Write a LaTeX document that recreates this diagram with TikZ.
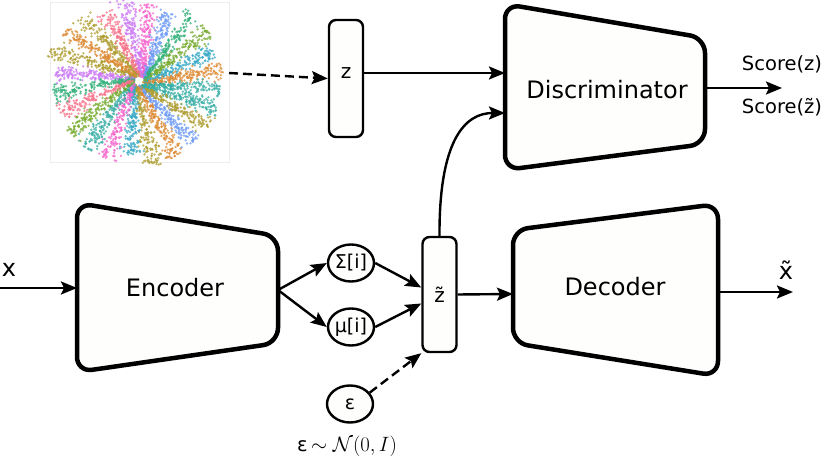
\documentclass[tikz,border=0pt]{standalone}
\usepackage{fontspec}
\setmainfont{DejaVu Sans}
\usetikzlibrary{arrows.meta,calc,shapes.geometric}
\definecolor{boxfill}{RGB}{254,254,252}
\definecolor{c1}{HTML}{F77189}
\definecolor{c2}{HTML}{DC8932}
\definecolor{c3}{HTML}{AE9D31}
\definecolor{c4}{HTML}{77AB31}
\definecolor{c5}{HTML}{33B07A}
\definecolor{c6}{HTML}{36ADA4}
\definecolor{c7}{HTML}{38A9C5}
\definecolor{c8}{HTML}{6E9BF4}
\definecolor{c9}{HTML}{CC7AF4}
\definecolor{c10}{HTML}{F565CC}
\begin{document}
\begin{tikzpicture}[x=1pt,y=-1pt,
  arr/.style={line width=2.4pt,-{Stealth[length=16pt,width=13pt,inset=3pt]}},
  dasharr/.style={arr,dash pattern=on 9pt off 5pt},
  big/.style={draw,line width=4.5pt,fill=boxfill,rounded corners=15pt,line join=round},
  vec/.style={draw,line width=2.4pt,fill=boxfill,rounded corners=7pt,minimum width=34pt,inner sep=0pt,font=\fontsize{20}{20}\selectfont},
  var/.style={draw,ellipse,line width=2.4pt,fill=boxfill,minimum width=46pt,minimum height=37pt,inner sep=0pt,font=\fontsize{19}{19}\selectfont},
  lbl/.style={font=\fontsize{24}{24}\selectfont},
  small/.style={font=\fontsize{19.5}{19.5}\selectfont}
]
\useasboundingbox (0,0) rectangle (830,462);

% ---------- scatter plot of the prior ----------
\draw[black!7,line width=0.7pt] (50,2) rectangle (229,162);
\pgfmathsetseed{4242}
\foreach \col [count=\k] in {c6,c3,c8,c2,c3,c7,c10,c6,c4,c1,c5,c9,c3,c2,c3,c1,c9,c10,c8,c5,c4,c7,c2,c6} {
  \pgfmathsetmacro\base{\k*15+3}
  \pgfmathsetmacro\len{70+14*rnd}
  \foreach \j in {1,...,190} {
    \pgfmathsetmacro\r{3+\len*rnd}
    \pgfmathsetmacro\s{(rnd+rnd+rnd-1.5)*(1.5+0.1*\r)+4}
    \pgfmathsetmacro\px{139+1.1*(\r*cos(\base)-\s*sin(\base))}
    \pgfmathsetmacro\py{81+(\r*sin(\base)+\s*cos(\base))}
    \fill[\col,opacity=0.75] (\px,\py) circle (1.3);
  }
}
\coordinate (prior) at (229,73);

% ---------- Discriminator ----------
\draw[big] (505,4) -- (705,38) -- (705,144) -- (505,170) -- cycle;
\node[lbl] (disc) at (607,90) {Discriminator};
\coordinate (discW1) at (505,73);
\coordinate (discW2) at (505,113);
\coordinate (discE) at (705,88);
\coordinate (sout) at (782,88);

% ---------- Encoder ----------
\draw[big] (77,203) -- (278,236) -- (278,343) -- (77,372) -- cycle;
\node[lbl] (enc) at (175,288) {Encoder};
\coordinate (encW) at (77,288);
\coordinate (encE) at (278,290);
\coordinate (xin) at (0,288);

% ---------- Decoder ----------
\draw[big] (513,230) -- (718,204) -- (718,376) -- (513,343) -- cycle;
\node[lbl] (dec) at (615,287) {Decoder};
\coordinate (decW) at (513,294);
\coordinate (decE) at (718,292);
\coordinate (xout) at (793,292);

% ---------- vectors and variables ----------
\node[vec,minimum height=117pt,text height=11pt,text depth=10pt] (z) at (346,78.5) {z};
\node[vec,minimum height=115pt] (zt) at (439.5,294.5) {\~z};
\node[var] (sig) at (351,263) {Σ[i]};
\node[var] (mu) at (351,327) {μ[i]};
\node[var] (eps) at (350,404) {ε};

% ---------- labels ----------
\node[lbl] (xl) at (9,270) {x};
\node[lbl] (xtl) at (786,270) {\~x};
\node[small] (s1) at (782,64) {Score(z)};
\node[small] (s2) at (782,107) {Score(\~z)};
\node[small] (epsl) at (347,446) {ε$\,\sim\mathcal{N}(0,I)$};

% ---------- connectors ----------
\draw[dasharr] (prior) -- (z.west);
\draw[arr] ($(z.east)+(0,-5.5)$) -- (discW1);
\draw[arr] (discE) -- (sout);
\draw[arr] (xin) -- (encW);
\draw[arr] (encE) -- (sig.west);
\draw[arr] (encE) -- (mu.west);
\draw[arr] (sig.east) -- ($(zt.west)+(0,-7)$);
\draw[arr] (mu.east) -- ($(zt.west)+(0,9)$);
\draw[dasharr] (eps.30) -- (zt.south west);
\draw[arr] (zt.east) -- (decW);
\draw[arr] (decE) -- (xout);
\draw[arr] (zt.north) .. controls (439,140) and (465,113) .. (discW2);
\end{tikzpicture}
\end{document}
